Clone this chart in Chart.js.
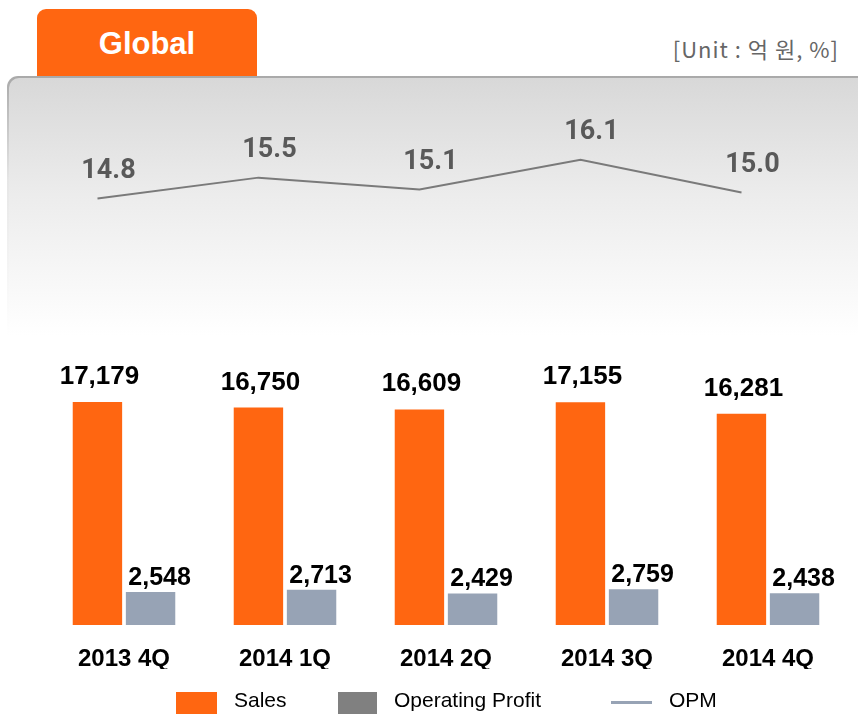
<!DOCTYPE html>
<html lang="en">
<head>
    <meta charset="UTF-8">
    <title>Global</title>
    <script src="https://cdn.jsdelivr.net/npm/chart.js"></script>
    <style>
        body {
            margin: 0;
            width: 858px;
            height: 714px;
            overflow: hidden;
            background: #ffffff;
            position: relative;
            font-family: "Liberation Sans", Arial, sans-serif;
        }

        .tab {
            position: absolute;
            left: 37px;
            top: 9px;
            width: 220px;
            height: 75px;
            background: #ff6611;
            border-radius: 9px 9px 0 0;
            color: #ffffff;
            font-weight: bold;
            font-size: 31px;
            text-align: center;
            line-height: 70px;
        }

        .unit {
            position: absolute;
            right: 19px;
            top: 34px;
            font-family: "Noto Sans CJK KR", "Noto Sans", sans-serif;
            font-size: 22px;
            line-height: 28px;
            letter-spacing: 1px;
            color: #666666;
        }

        .panel {
            position: absolute;
            left: 7px;
            top: 76px;
            width: 870px;
            height: 260px;
            border-radius: 11px 11px 0 0;
            background: linear-gradient(to bottom, #a9a9a9 0%, #e6e6e6 40%, #ffffff 100%);
        }

        .panel-inner {
            position: absolute;
            left: 1.5px;
            top: 2px;
            right: 0;
            bottom: 0;
            border-radius: 10px 10px 0 0;
            background: linear-gradient(to bottom, #d8d8d8 0%, #ececec 45%, #ffffff 100%);
        }

        canvas {
            position: absolute;
            left: 0;
            top: 0;
        }

        .legend-item {
            position: absolute;
            top: 688px;
            font-size: 21px;
            line-height: 24px;
            color: #000000;
            white-space: nowrap;
        }

        .legend-mark {
            position: absolute;
            left: 0;
        }
    </style>
</head>
<body>

    <div class="tab">Global</div>
    <div class="panel"><div class="panel-inner"></div></div>
    <div class="unit">[Unit : 억 원, %]</div>

    <canvas id="barChart" width="858" height="714"></canvas>
    <canvas id="lineChart" width="858" height="714"></canvas>

    <div id="legend"></div>

    <script>
        // values
        const categories = ["2013 4Q", "2014 1Q", "2014 2Q", "2014 3Q", "2014 4Q"];
        const sales = [17179, 16750, 16609, 17155, 16281];
        const operatingProfit = [2548, 2713, 2429, 2759, 2438];
        const opm = [14.8, 15.5, 15.1, 16.1, 15.0];

        const orange = "#ff6611";
        const blueGrey = "#97a3b5";
        const lineGrey = "#7a7a7a";

        // labels above the bars
        const barLabels = {
            id: "barLabels",
            afterDatasetsDraw(chart) {
                const ctx = chart.ctx;
                ctx.save();
                ctx.textAlign = "center";
                ctx.textBaseline = "alphabetic";
                ctx.fillStyle = "#000000";

                ctx.font = "bold 26px 'Liberation Sans', Arial";
                chart.getDatasetMeta(0).data.forEach((bar, i) => {
                    ctx.fillText(sales[i].toLocaleString("en-US"), bar.x + 2, bar.y - 18);
                });

                ctx.font = "bold 25px 'Liberation Sans', Arial";
                chart.getDatasetMeta(1).data.forEach((bar, i) => {
                    ctx.fillText(operatingProfit[i].toLocaleString("en-US"), bar.x + 9, bar.y - 7);
                });
                ctx.restore();
            }
        };

        // labels above the OPM line
        const lineLabels = {
            id: "lineLabels",
            afterDatasetsDraw(chart) {
                const ctx = chart.ctx;
                ctx.save();
                ctx.textAlign = "center";
                ctx.textBaseline = "alphabetic";
                ctx.font = "bold 27px Roboto, 'Noto Sans'";
                ctx.fillStyle = "#595959";
                chart.getDatasetMeta(0).data.forEach((pt, i) => {
                    ctx.fillText(opm[i].toFixed(1), pt.x + 11, pt.y - 21);
                });
                ctx.restore();
            }
        };

        new Chart(document.getElementById("barChart").getContext("2d"), {
            type: "bar",
            data: {
                labels: categories,
                datasets: [{
                    label: "Sales",
                    data: sales,
                    backgroundColor: orange
                }, {
                    label: "Operating Profit",
                    data: operatingProfit,
                    backgroundColor: blueGrey
                }]
            },
            options: {
                responsive: false,
                animation: false,
                events: [],
                categoryPercentage: 0.66,
                barPercentage: 0.93,
                layout: {
                    padding: { left: 43.5, right: 9.5, top: 0, bottom: 45 }
                },
                plugins: {
                    legend: { display: false },
                    tooltip: { enabled: false }
                },
                scales: {
                    x: {
                        grid: { display: false },
                        border: { display: false },
                        afterFit(scale) { scale.height = 44; },
                        ticks: {
                            padding: 12,
                            color: "#000000",
                            font: { family: "'Liberation Sans', Arial", size: 24, weight: "bold" }
                        }
                    },
                    y: {
                        display: false,
                        min: 0,
                        max: 48150
                    }
                }
            },
            plugins: [barLabels]
        });

        // the OPM line sits over the sales bar of each group, so its plot area is shifted left
        new Chart(document.getElementById("lineChart").getContext("2d"), {
            type: "line",
            data: {
                labels: categories,
                datasets: [{
                    label: "OPM",
                    data: opm,
                    borderColor: lineGrey,
                    borderWidth: 2,
                    pointRadius: 0,
                    tension: 0
                }]
            },
            options: {
                responsive: false,
                animation: false,
                events: [],
                layout: {
                    padding: { left: 17, right: 36, top: 0, bottom: 89 }
                },
                plugins: {
                    legend: { display: false },
                    tooltip: { enabled: false }
                },
                scales: {
                    x: { display: false, offset: true },
                    y: { display: false, min: 0.54, max: 21.44 }
                }
            },
            plugins: [lineLabels]
        });

        // legend as in the picture (its swatch colours differ from the marks)
        const legendItems = [
            { text: "Sales", kind: "box", color: orange, left: 176, width: 41 },
            { text: "Operating Profit", kind: "box", color: "#808080", left: 338, width: 39 },
            { text: "OPM", kind: "line", color: blueGrey, left: 611, width: 41 }
        ];
        const legend = document.getElementById("legend");
        legendItems.forEach(item => {
            const el = document.createElement("div");
            el.className = "legend-item";
            el.style.left = item.left + "px";
            el.style.paddingLeft = (item.width + 17) + "px";
            const mark = document.createElement("span");
            mark.className = "legend-mark";
            mark.style.width = item.width + "px";
            mark.style.background = item.color;
            if (item.kind === "box") {
                mark.style.top = "4px";
                mark.style.height = "26px";
            } else {
                mark.style.top = "13px";
                mark.style.height = "3px";
            }
            el.appendChild(mark);
            el.appendChild(document.createTextNode(item.text));
            legend.appendChild(el);
        });
    </script>

</body>
</html>
